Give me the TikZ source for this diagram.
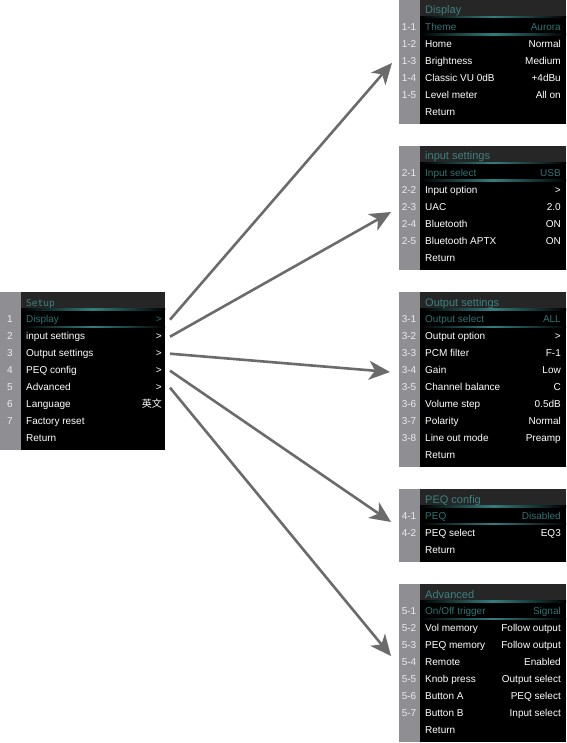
\documentclass[tikz,border=0pt]{standalone}
\usepackage{fontspec}
\setmainfont{Liberation Sans}
\newfontfamily\cjk{Noto Sans CJK SC}
\newfontfamily\titlemono{DejaVu Sans Mono}
\usetikzlibrary{arrows.meta}
\definecolor{stripgray}{HTML}{8E8E93}
\definecolor{bandgray}{HTML}{262626}
\definecolor{menuteal}{HTML}{3C8282}
\definecolor{selteal}{HTML}{2E7474}
\definecolor{glowteal}{HTML}{347E7E}
\definecolor{numwhite}{HTML}{ECECEC}
\definecolor{arrowgray}{HTML}{6B6B6B}
\begin{document}
\begin{tikzpicture}[x=1pt,y=-1pt,
    item/.style={anchor=base west, inner sep=0pt, font=\fontsize{10}{12}\selectfont},
    value/.style={anchor=base east, inner sep=0pt, font=\fontsize{10}{12}\selectfont},
    num/.style={anchor=base, inner sep=0pt, text=numwhite, font=\fontsize{10}{12}\selectfont},
    title/.style={anchor=base west, inner sep=0pt, text=menuteal, font=\fontsize{11}{13}\selectfont},
    glow/.style={left color=black, right color=black, middle color=glowteal},
    menuarrow/.style={arrowgray, line width=2.6pt, -{Stealth[length=21pt,width=19pt,inset=6pt]}}]%{{{
\useasboundingbox (0,0) rectangle (566,743);
%
% Fonds des menus
\foreach \xa/\xb/\xc/\T/\B in {0/21/165/292/450, 399/420/566/0/124,
    399/420/566/146/270, 399/420/566/292/467, 399/420/566/489/562,
    399/420/566/584/742} {
  \fill [stripgray] (\xa,\T) rectangle (\xb,\B);
  \fill [black]     (\xb,\T) rectangle (\xc,\B);
  \fill [bandgray]  (\xb,\T) rectangle (\xc,\T+17);
  \shade [glow]     (\xb,\T+16.5) rectangle (\xc,\T+18);
  \shade [glow]     (\xb,\T+34) rectangle (\xc,\T+35.5);
}
%
% Setup
\node [title, font=\titlemono\fontsize{9.5}{11}\selectfont] (setup) at (26,306) {Setup};
\foreach \i/\l/\c in {1/Display/selteal, 2/input settings/white, 3/Output settings/white,
    4/PEQ config/white, 5/Advanced/white, 6/Language/white, 7/Factory reset/white} {
  \node [num] (sn\i) at (10,{305.6+17*\i}) {\i};
  \node [item, text=\c] (s\i) at (26,{305.6+17*\i}) {\l};
}
\node [item, text=white] (sret) at (26,441.6) {Return};
\foreach \i/\c in {1/selteal, 2/white, 3/white, 4/white, 5/white}
  \node [value, text=\c] (sv\i) at (162,{305.6+17*\i}) {>};
\node [value, text=white, font=\cjk\fontsize{10}{12}\selectfont] (sv6) at (162,407.6) {英文};
%
% Display
\node [title] (disp) at (425,14) {Display};
\foreach \i/\n/\l/\v/\c in {1/1-1/Theme/Aurora/selteal, 2/1-2/Home/Normal/white,
    3/1-3/Brightness/Medium/white, 4/1-4/Classic VU 0dB/+4dBu/white,
    5/1-5/Level meter/All on/white} {
  \node [num] (dispn\i) at (409,{13.6+17*\i}) {\n};
  \node [item, text=\c] (disp\i) at (425,{13.6+17*\i}) {\l};
  \node [value, text=\c] (dispv\i) at (561,{13.6+17*\i}) {\v};
}
\node [item, text=white] (dispret) at (425,115.6) {Return};
%
% input settings
\node [title] (inp) at (425,160) {input settings};
\foreach \i/\n/\l/\v/\c in {1/2-1/Input select/USB/selteal, 2/2-2/Input option/>/white,
    3/2-3/UAC/2.0/white, 4/2-4/Bluetooth/ON/white, 5/2-5/Bluetooth APTX/ON/white} {
  \node [num] (inpn\i) at (409,{159.6+17*\i}) {\n};
  \node [item, text=\c] (inp\i) at (425,{159.6+17*\i}) {\l};
  \node [value, text=\c] (inpv\i) at (561,{159.6+17*\i}) {\v};
}
\node [item, text=white] (inpret) at (425,261.6) {Return};
%
% Output settings
\node [title] (outp) at (425,306) {Output settings};
\foreach \i/\n/\l/\v/\c in {1/3-1/Output select/ALL/selteal, 2/3-2/Output option/>/white,
    3/3-3/PCM filter/F-1/white, 4/3-4/Gain/Low/white, 5/3-5/Channel balance/C/white,
    6/3-6/Volume step/0.5dB/white, 7/3-7/Polarity/Normal/white,
    8/3-8/Line out mode/Preamp/white} {
  \node [num] (outpn\i) at (409,{305.6+17*\i}) {\n};
  \node [item, text=\c] (outp\i) at (425,{305.6+17*\i}) {\l};
  \node [value, text=\c] (outpv\i) at (561,{305.6+17*\i}) {\v};
}
\node [item, text=white] (outpret) at (425,458.6) {Return};
%
% PEQ config
\node [title] (peq) at (425,503) {PEQ config};
\foreach \i/\n/\l/\v/\c in {1/4-1/PEQ/Disabled/selteal, 2/4-2/PEQ select/EQ3/white} {
  \node [num] (peqn\i) at (409,{502.6+17*\i}) {\n};
  \node [item, text=\c] (peq\i) at (425,{502.6+17*\i}) {\l};
  \node [value, text=\c] (peqv\i) at (561,{502.6+17*\i}) {\v};
}
\node [item, text=white] (peqret) at (425,553.6) {Return};
%
% Advanced
\node [title] (adv) at (425,598) {Advanced};
\foreach \i/\n/\l/\v/\c in {1/5-1/{On/Off trigger}/Signal/selteal,
    2/5-2/Vol memory/Follow output/white, 3/5-3/PEQ memory/Follow output/white,
    4/5-4/Remote/Enabled/white, 5/5-5/Knob press/Output select/white,
    6/5-6/Button A/PEQ select/white, 7/5-7/Button B/Input select/white} {
  \node [num] (advn\i) at (409,{597.6+17*\i}) {\n};
  \node [item, text=\c] (adv\i) at (425,{597.6+17*\i}) {\l};
  \node [value, text=\c] (advv\i) at (561,{597.6+17*\i}) {\v};
}
\node [item, text=white] (advret) at (425,733.6) {Return};
%
% Fleches
\coordinate (tip1) at (392,63);
\coordinate (tip2) at (391,212);
\coordinate (tip3) at (390,372);
\coordinate (tip4) at (391,522);
\coordinate (tip5) at (391,656);
\foreach \i in {1,...,5}
  \draw [menuarrow] ([xshift=8pt]sv\i.east) -- (tip\i);
%
\end{tikzpicture}%}}}
\end{document}
